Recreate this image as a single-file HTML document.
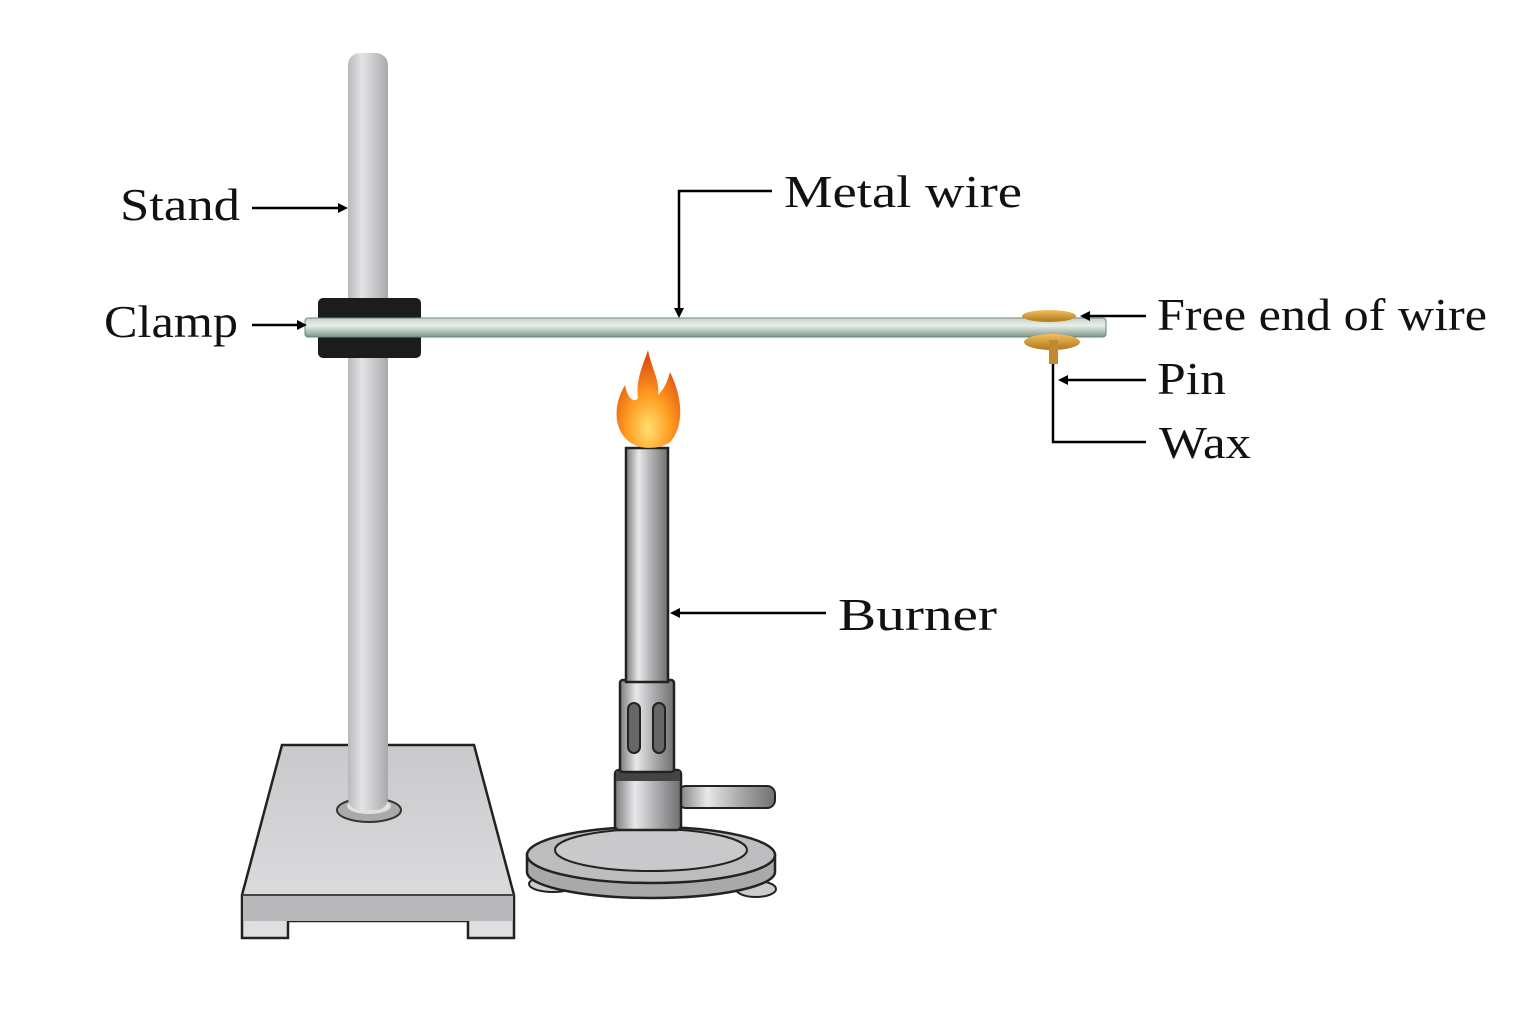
<!DOCTYPE html>
<html><head><style>body{margin:0;background:#fff}svg{display:block}text{font-family:"Liberation Serif",serif;font-size:46px;fill:#111}</style></head><body>
<svg width="1536" height="1024" viewBox="0 0 1536 1024">
<defs>
<linearGradient id="pole" x1="0" x2="1"><stop offset="0" stop-color="#b9b9bb"/><stop offset=".35" stop-color="#e4e4e6"/><stop offset="1" stop-color="#a9a9ab"/></linearGradient>
<linearGradient id="met" x1="0" x2="1"><stop offset="0" stop-color="#7c7c7e"/><stop offset=".3" stop-color="#e8e8ea"/><stop offset=".6" stop-color="#b0b0b2"/><stop offset="1" stop-color="#707072"/></linearGradient>
<linearGradient id="wire" x1="0" y1="0" x2="0" y2="1"><stop offset="0" stop-color="#c5d3cc"/><stop offset=".4" stop-color="#e8efe9"/><stop offset="1" stop-color="#7f958a"/></linearGradient>
<linearGradient id="base" x1="0" y1="0" x2="0" y2="1"><stop offset="0" stop-color="#c9c9cb"/><stop offset="1" stop-color="#e0e0e2"/></linearGradient>
<linearGradient id="gold" x1="0" y1="0" x2="0" y2="1"><stop offset="0" stop-color="#f0c060"/><stop offset="1" stop-color="#b07818"/></linearGradient>
<radialGradient id="fl" cx=".5" cy=".8" r=".7"><stop offset="0" stop-color="#ffe070"/><stop offset=".5" stop-color="#ff9a20"/><stop offset="1" stop-color="#e05010"/></radialGradient>
</defs>
<path d="M282 745 L474 745 L514 895 L514 938 L468 938 L468 921 L288 921 L288 938 L242 938 L242 895 Z" fill="url(#base)" stroke="#222" stroke-width="2.5"/>
<path d="M242 895 L514 895" stroke="#444" stroke-width="2"/>
<rect x="243" y="896" width="270" height="25" fill="#b8b8ba"/>
<ellipse cx="369" cy="810" rx="32" ry="12" fill="#aaa" stroke="#333" stroke-width="2"/>
<ellipse cx="369" cy="806" rx="22" ry="8" fill="#e0e0e0"/>
<rect x="348" y="53" width="40" height="757" rx="12" fill="url(#pole)"/>
<rect x="318" y="298" width="103" height="60" rx="5" fill="#1c1c1c"/>
<rect x="305" y="318" width="801" height="19" rx="3" fill="url(#wire)" stroke="#6f857a" stroke-width="1"/>
<ellipse cx="1052" cy="342" rx="28" ry="8" fill="url(#gold)"/>
<rect x="1049" y="340" width="9" height="24" fill="#c08a30"/>
<ellipse cx="1049" cy="316" rx="27" ry="6" fill="url(#gold)"/>
<ellipse cx="553" cy="884" rx="24" ry="8" fill="#ccc" stroke="#222" stroke-width="2"/>
<ellipse cx="756" cy="889" rx="20" ry="8" fill="#ccc" stroke="#222" stroke-width="2"/>
<path d="M527 855 L527 872 A124 26 0 0 0 775 872 L775 855 Z" fill="#a9a9ab" stroke="#222" stroke-width="2.5"/>
<ellipse cx="651" cy="855" rx="124" ry="28" fill="#bdbdbf" stroke="#222" stroke-width="2.5"/>
<ellipse cx="651" cy="850" rx="96" ry="21" fill="#c9c9cb" stroke="#222" stroke-width="2"/>
<rect x="678" y="786" width="97" height="22" rx="8" fill="url(#met)" stroke="#222" stroke-width="2"/>
<rect x="615" y="770" width="66" height="60" rx="4" fill="url(#met)" stroke="#222" stroke-width="2.5"/>
<rect x="616" y="771" width="64" height="10" fill="#444"/>
<rect x="620" y="680" width="54" height="92" rx="3" fill="url(#met)" stroke="#222" stroke-width="2.5"/>
<rect x="628" y="703" width="12" height="50" rx="6" fill="#666" stroke="#222" stroke-width="2"/>
<rect x="653" y="703" width="12" height="50" rx="6" fill="#666" stroke="#222" stroke-width="2"/>
<rect x="626" y="448" width="42" height="234" fill="url(#met)" stroke="#222" stroke-width="2.5"/>
<path d="M640 447 C615 440 610 410 625 385 C628 400 635 403 638 398 C635 380 645 360 648 350 C652 370 660 380 658 395 C665 388 668 380 670 372 C680 392 686 420 672 440 C665 448 650 449 640 447 Z" fill="url(#fl)"/>
<g stroke="#000" stroke-width="2.5" fill="none">
<path d="M252 208 H340"/><path d="M252 325 H299"/>
<path d="M772 191 H679 V310"/>
<path d="M1146 316 H1088"/><path d="M1146 380 H1066"/>
<path d="M1146 442 H1053 V364"/>
<path d="M826 613 H678"/>
</g>
<g fill="#000">
<path d="M348 208 l-10 -5 v10z"/><path d="M307 325 l-10 -5 v10z"/>
<path d="M679 318 l-5 -10 h10z"/>
<path d="M1080 316 l10 -5 v10z"/><path d="M1058 380 l10 -5 v10z"/>
<path d="M670 613 l10 -5 v10z"/>
</g>
<text x="120" y="220" textLength="120" lengthAdjust="spacingAndGlyphs">Stand</text>
<text x="104" y="337" textLength="134" lengthAdjust="spacingAndGlyphs">Clamp</text>
<text x="784" y="207" textLength="238" lengthAdjust="spacingAndGlyphs">Metal wire</text>
<text x="1157" y="330" textLength="330" lengthAdjust="spacingAndGlyphs">Free end of wire</text>
<text x="1157" y="394" textLength="69" lengthAdjust="spacingAndGlyphs">Pin</text>
<text x="1159" y="458" textLength="92" lengthAdjust="spacingAndGlyphs">Wax</text>
<text x="838" y="630" textLength="159" lengthAdjust="spacingAndGlyphs">Burner</text>
</svg>
</body></html>
